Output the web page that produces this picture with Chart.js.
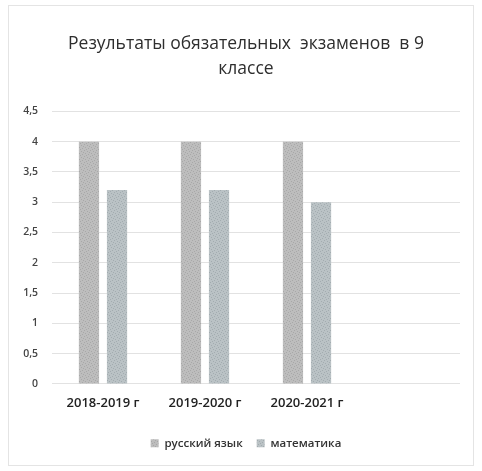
<!DOCTYPE html>
<html>
<head>
<meta charset="utf-8">
<script src="https://cdn.jsdelivr.net/npm/chart.js@4"></script>
<style>
  html, body { margin: 0; padding: 0; background: #fff; }
  #wrap { width: 482px; height: 471px; }
</style>
</head>
<body>
<div id="wrap"><canvas id="c"></canvas></div>
<script>
// data
const years = ["2018-2019 г", "2019-2020 г", "2020-2021 г", ""];
const russian = [4, 4, 4, null];
const maths = [3.2, 3.2, 3, null];
const yTicks = { min: 0, max: 4.5, step: 0.5 };

const FONT = "'Open Sans', 'Noto Sans', sans-serif";

// small stippled fill, the bars in the picture are grainy
function grain(base, dark) {
  const c = document.createElement("canvas");
  c.width = 6; c.height = 6;
  const g = c.getContext("2d");
  g.fillStyle = base;
  g.fillRect(0, 0, 6, 6);
  g.fillStyle = dark;
  [[0, 0], [3, 1], [1, 3], [4, 4], [2, 5], [5, 2]].forEach(([x, y]) => g.fillRect(x, y, 1, 1));
  return g.createPattern(c, "repeat");
}

// faint frame round the whole chart, like the pasted picture
const framePlugin = {
  id: "frame",
  beforeDraw(chart) {
    const { ctx, width, height } = chart;
    ctx.save();
    ctx.fillStyle = "#fff";
    ctx.fillRect(0, 0, width, height);
    ctx.strokeStyle = "#e4e4e4";
    ctx.lineWidth = 1;
    ctx.strokeRect(8.5, 5.5, width - 17, height - 11);
    ctx.restore();
  }
};

new Chart(document.getElementById("c"), {
  type: "bar",
  data: {
    labels: years,
    datasets: [
      {
        label: "русский язык",
        data: russian,
        backgroundColor: grain("#bdbdbd", "#a8a8a8"),
        borderWidth: 0
      },
      {
        label: "математика",
        data: maths,
        backgroundColor: grain("#bac2c5", "#a3acb0"),
        borderWidth: 0
      }
    ]
  },
  options: {
    responsive: true,
    maintainAspectRatio: false,
    animation: false,
    layout: { padding: { left: 10, right: 0, top: 14, bottom: 12 } },
    datasets: {
      bar: { categoryPercentage: 0.55, barPercentage: 0.72 }
    },
    scales: {
      x: {
        grid: { display: false },
        border: { display: false },
        afterFit(scale) { scale.height += 8; },
        ticks: {
          color: "#222",
          font: { family: FONT, size: 13, weight: "600" },
          padding: 4,
          maxRotation: 0
        }
      },
      y: {
        min: yTicks.min,
        max: yTicks.max,
        afterFit(scale) { scale.width = 42; },
        grid: { color: "#e2e2e2", drawTicks: false },
        border: { display: false },
        ticks: {
          stepSize: yTicks.step,
          color: "#444",
          padding: 14,
          font: { family: FONT, size: 10.5, weight: "600" },
          callback: (v) => String(v).replace(".", ",")
        }
      },
      // empty spacer on the right so the title and legend sit where they do in the picture
      spacer: {
        type: "linear",
        position: "right",
        grid: { display: false },
        border: { display: false },
        ticks: { display: false },
        afterFit(scale) { scale.width = 22; }
      }
    },
    plugins: {
      title: {
        display: true,
        text: ["Результаты обязательных  экзаменов  в 9", "классе"],
        color: "#2e2e2e",
        font: { family: FONT, size: 17.5, weight: "normal", lineHeight: 1.41 },
        padding: { top: 18, bottom: 30 }
      },
      legend: {
        position: "bottom",
        labels: {
          color: "#333",
          font: { family: FONT, size: 11.5, weight: "600" },
          boxWidth: 8,
          boxHeight: 8,
          padding: 14
        }
      },
      tooltip: { enabled: false }
    }
  },
  plugins: [framePlugin]
});
</script>
</body>
</html>
